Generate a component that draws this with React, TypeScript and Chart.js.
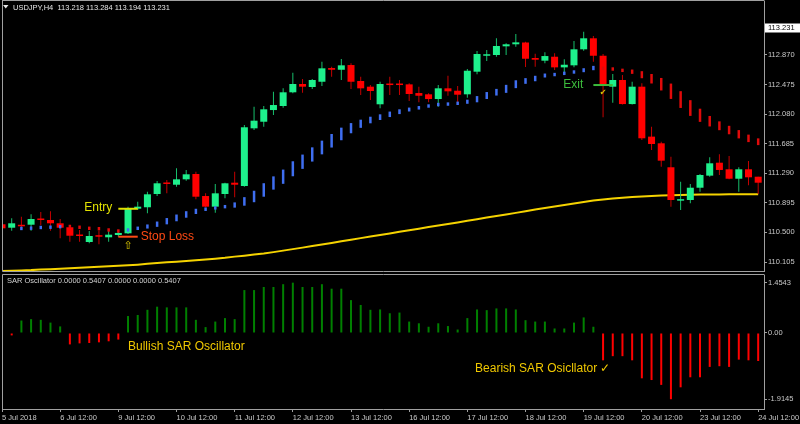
import React, { useEffect, useRef } from 'react';
import { Chart, registerables } from 'chart.js';

Chart.register(...registerables);

// ---------- chart data (USDJPY, H4) ----------
const symbolLine = 'USDJPY,H4  113.218 113.284 113.194 113.231';
const oscillatorLine = 'SAR Oscillator 0.0000 0.5407 0.0000 0.0000 0.5407';
const bidPrice = 113.231;

const dateLabels = [
  '5 Jul 2018', '6 Jul 12:00', '9 Jul 12:00', '10 Jul 12:00', '11 Jul 12:00',
  '12 Jul 12:00', '13 Jul 12:00', '16 Jul 12:00', '17 Jul 12:00', '18 Jul 12:00',
  '19 Jul 12:00', '20 Jul 12:00', '23 Jul 12:00', '24 Jul 12:00',
];
const barsPerDateLabel = 6;

const priceTicks = [110.105, 110.5, 110.895, 111.29, 111.685, 112.08, 112.475, 112.87];
const oscillatorTicks = [1.4543, 0, -1.9145];

const opens = [
  110.609, 110.563, 110.595, 110.603, 110.683, 110.666, 110.622, 110.569, 110.466, 110.372,
  110.456, 110.435, 110.466, 110.488, 110.817, 110.836, 111.013, 111.164, 111.137, 111.209,
  111.280, 110.986, 110.844, 111.013, 111.164, 111.120, 111.890, 111.978, 112.134, 112.188,
  112.371, 112.482, 112.442, 112.512, 112.695, 112.672, 112.735, 112.522, 112.446, 112.211,
  112.482, 112.486, 112.477, 112.361, 112.344, 112.281, 112.424, 112.392, 112.344, 112.646,
  112.859, 112.869, 112.985, 113.012, 113.036, 112.829, 112.793, 112.846, 112.704, 112.731,
  112.945, 113.092, 112.859, 112.446, 112.535, 112.214, 112.446, 111.779, 111.690, 111.370,
  110.924, 110.933, 111.097, 111.258, 111.431, 111.343, 111.217, 111.343, 111.244,
];
const highs = [
  110.702, 110.689, 110.710, 110.742, 110.773, 110.782, 110.679, 110.577, 110.533, 110.519,
  110.523, 110.542, 110.533, 110.844, 110.910, 111.044, 111.187, 111.200, 111.356, 111.334,
  111.311, 111.022, 111.147, 111.164, 111.311, 111.934, 112.179, 112.188, 112.379, 112.424,
  112.632, 112.548, 112.548, 112.779, 112.713, 112.815, 112.758, 112.579, 112.468, 112.512,
  112.579, 112.535, 112.491, 112.446, 112.357, 112.468, 112.593, 112.455, 112.682, 112.922,
  112.936, 113.092, 113.025, 113.149, 113.046, 112.886, 112.905, 112.891, 112.811, 113.056,
  113.180, 113.122, 112.882, 112.615, 112.602, 112.512, 112.491, 111.912, 111.712, 111.511,
  111.177, 111.147, 111.280, 111.503, 111.543, 111.520, 111.370, 111.453, 111.244,
];
const lows = [
  110.542, 110.523, 110.533, 110.523, 110.595, 110.523, 110.422, 110.376, 110.376, 110.356,
  110.342, 110.376, 110.443, 110.479, 110.799, 110.755, 110.986, 111.022, 111.111, 111.191,
  110.942, 110.836, 110.763, 110.956, 110.969, 111.111, 111.867, 111.912, 112.068, 112.165,
  112.357, 112.365, 112.415, 112.455, 112.579, 112.535, 112.415, 112.335, 112.268, 112.157,
  112.335, 112.335, 112.255, 112.237, 112.237, 112.179, 112.325, 112.211, 112.299, 112.611,
  112.789, 112.847, 112.869, 112.980, 112.709, 112.713, 112.758, 112.668, 112.624, 112.704,
  112.926, 112.779, 112.037, 112.232, 112.208, 112.208, 111.734, 111.600, 111.378, 110.844,
  110.799, 110.889, 111.044, 111.244, 111.267, 111.209, 111.044, 111.129, 111.013,
];
const closes = [
  110.555, 110.622, 110.582, 110.679, 110.666, 110.622, 110.563, 110.456, 110.452, 110.452,
  110.443, 110.470, 110.493, 110.816, 110.844, 111.009, 111.156, 111.147, 111.209, 111.276,
  110.977, 110.844, 111.022, 111.156, 111.137, 111.904, 111.992, 112.144, 112.201, 112.371,
  112.482, 112.446, 112.535, 112.691, 112.672, 112.731, 112.512, 112.424, 112.388, 112.482,
  112.468, 112.468, 112.348, 112.325, 112.281, 112.424, 112.384, 112.339, 112.659, 112.882,
  112.878, 112.989, 113.012, 113.038, 112.819, 112.806, 112.855, 112.704, 112.739, 112.945,
  113.092, 112.859, 112.468, 112.535, 112.214, 112.446, 111.757, 111.681, 111.458, 110.933,
  110.937, 111.097, 111.267, 111.423, 111.334, 111.217, 111.343, 111.236, 111.164,
];

// slow moving average (yellow)
const movingAverage = [
  109.985, 109.989, 109.993, 109.997, 110.004, 110.010, 110.016, 110.022, 110.029, 110.036,
  110.041, 110.048, 110.054, 110.061, 110.070, 110.081, 110.092, 110.101, 110.110, 110.120,
  110.129, 110.138, 110.149, 110.161, 110.177, 110.190, 110.204, 110.218, 110.237, 110.257,
  110.277, 110.297, 110.319, 110.340, 110.360, 110.381, 110.403, 110.424, 110.446, 110.467,
  110.487, 110.508, 110.530, 110.550, 110.571, 110.592, 110.612, 110.634, 110.655, 110.677,
  110.698, 110.718, 110.739, 110.761, 110.783, 110.807, 110.827, 110.846, 110.866, 110.885,
  110.906, 110.925, 110.941, 110.953, 110.963, 110.973, 110.980, 110.986, 110.992, 110.996,
  111.000, 111.002, 111.005, 111.006, 111.008, 111.009, 111.009, 111.010, 111.010,
];

// Parabolic SAR below price (bullish)
const sarBullish = [
  null, null, 110.553, 110.557, 110.566, 110.570, 110.577, null, null, null,
  null, null, null, 110.533, 110.555, 110.579, 110.610, 110.650, 110.694, 110.740,
  110.781, 110.810, 110.828, 110.844, 110.866, 110.914, 110.980, 111.067, 111.160, 111.244,
  111.350, 111.444, 111.541, 111.634, 111.724, 111.815, 111.892, 111.951, 112.001, 112.039,
  112.077, 112.112, 112.141, 112.164, 112.188, 112.208, 112.214, 112.224, 112.245, 112.279,
  112.328, 112.372, 112.417, 112.479, 112.522, 112.555, 112.595, 112.608, 112.624, 112.642,
  112.666, 112.695, null, null, null, null, null, null, null, null,
  null, null, null, null, null, null, null, null, null,
];
// Parabolic SAR above price (bearish)
const sarBearish = [
  null, null, null, null, null, null, null, 110.580, 110.569, 110.555,
  110.550, 110.533, 110.519, null, null, null, null, null, null, null,
  null, null, null, null, null, null, null, null, null, null,
  null, null, null, null, null, null, null, null, null, null,
  null, null, null, null, null, null, null, null, null, null,
  null, null, null, null, null, null, null, null, null, null,
  null, null, 112.691, 112.682, 112.664, 112.646, 112.606, 112.552, 112.479, 112.385,
  112.274, 112.161, 112.064, 111.985, 111.924, 111.867, 111.811, 111.756, 111.711,
];

// SAR oscillator histogram
const oscillatorValues = [
  -0.14, -0.07, 0.36, 0.40, 0.38, 0.30, 0.19, -0.33, -0.30, -0.29,
  -0.27, -0.24, -0.19, 0.49, 0.52, 0.67, 0.76, 0.74, 0.74, 0.74,
  0.38, 0.17, 0.33, 0.43, 0.40, 1.24, 1.24, 1.33, 1.33, 1.41,
  1.4543, 1.33, 1.33, 1.41, 1.28, 1.28, 0.95, 0.81, 0.67, 0.68,
  0.57, 0.59, 0.33, 0.28, 0.18, 0.28, 0.20, 0.10, 0.43, 0.68,
  0.66, 0.71, 0.71, 0.68, 0.37, 0.33, 0.33, 0.13, 0.13, 0.30,
  0.45, 0.18, -0.79, -0.67, -0.67, -0.79, -1.31, -1.36, -1.50, -1.9145,
  -1.57, -1.28, -1.28, -0.98, -0.96, -0.98, -0.77, -0.79, -0.81,
];

// trade markers
const entryBar = 13;
const entryPrice = closes[entryBar];
const stopPrice = 110.443;
const exitBar = 62;
const exitPrice = closes[exitBar];

// ---------- styling ----------
const FONT = "'Liberation Sans', Arial, sans-serif";
const AXIS_TEXT = '#c8c8c8';
const FRAME = '#a0a0a0';
const BULL_BODY = '#1ef08c';
const BULL_WICK = '#17bf6c';
const BEAR_BODY = '#ff0000';
const BEAR_WICK = '#c40000';
const SAR_BLUE = '#3f6ef0';
const SAR_RED = '#e00a0a';
const MA_COLOR = '#f5d300';
const ENTRY_COLOR = '#e2e200';
const STOP_COLOR = '#ff4a14';
const EXIT_COLOR = '#3cbc3c';
const NOTE_COLOR = '#f0c800';
const X_MAX = 78.6;
const AXIS_WIDTH = 36;

const bars = (arr: any[]) => arr.map((v, i) => ({ x: i, y: v }));

// dash length of each SAR mark follows the SAR step around it
const sarRadius = (series: (number | null)[]) => (ctx: any) => {
  const ys = ctx.chart.scales.y;
  const i = ctx.dataIndex;
  const v = series[i];
  if (v == null || !ys) return 0;
  const px = (p: number) => ys.getPixelForValue(p);
  const prev = series[i - 1];
  const next = series[i + 1];
  let r = 1.7;
  if (prev != null && next != null) r = Math.abs(px(prev) - px(next)) / 2;
  else if (prev != null) r = Math.abs(px(v) - px(prev));
  else if (next != null) r = Math.abs(px(v) - px(next));
  return Math.max(1.7, Math.min(r, 9));
};

const mainOverlay = {
  id: 'mainOverlay',
  afterDraw(chart: any) {
    const { ctx, chartArea: a, scales } = chart;
    const xs = scales.x;
    const ys = scales.y;
    ctx.save();

    // panel frame
    ctx.strokeStyle = FRAME;
    ctx.lineWidth = 1;
    ctx.beginPath();
    ctx.moveTo(a.left + 0.5, 0);
    ctx.lineTo(a.left + 0.5, a.bottom + 0.5);
    ctx.lineTo(a.right + 0.5, a.bottom + 0.5);
    ctx.moveTo(a.left, 0.5);
    ctx.lineTo(a.right + 0.5, 0.5);
    ctx.stroke();

    // symbol header
    ctx.fillStyle = '#e6e6e6';
    ctx.beginPath();
    ctx.moveTo(3, 5);
    ctx.lineTo(8.5, 5);
    ctx.lineTo(5.75, 8.5);
    ctx.closePath();
    ctx.fill();
    ctx.font = `7.5px ${FONT}`;
    ctx.textBaseline = 'middle';
    ctx.textAlign = 'left';
    ctx.fillText(symbolLine, 13, 7.5);

    // trade annotations
    ctx.font = `12px ${FONT}`;
    ctx.fillStyle = ENTRY_COLOR;
    ctx.textAlign = 'right';
    ctx.fillText('Entry', xs.getPixelForValue(entryBar - 1) - 6, ys.getPixelForValue(entryPrice) - 1);
    ctx.fillStyle = STOP_COLOR;
    ctx.textAlign = 'left';
    ctx.fillText('Stop Loss', xs.getPixelForValue(entryBar + 1) + 3, ys.getPixelForValue(stopPrice));
    ctx.fillStyle = EXIT_COLOR;
    ctx.textAlign = 'right';
    ctx.fillText('Exit', xs.getPixelForValue(exitBar - 1) - 10, ys.getPixelForValue(exitPrice));

    // buy / exit arrows
    ctx.textAlign = 'center';
    ctx.fillStyle = '#d8c400';
    ctx.font = `11px 'DejaVu Sans', sans-serif`;
    ctx.fillText('\u21E7', xs.getPixelForValue(entryBar), ys.getPixelForValue(lows[entryBar]) + 12);
    ctx.font = `8px 'DejaVu Sans', sans-serif`;
    ctx.fillText('\u2714', xs.getPixelForValue(exitBar), ys.getPixelForValue(exitPrice) + 8);

    // current bid label
    const py = Math.round(ys.getPixelForValue(bidPrice));
    ctx.fillStyle = '#ffffff';
    ctx.fillRect(a.right + 1, py - 4.5, 35, 9);
    ctx.fillStyle = '#000000';
    ctx.font = `7.5px ${FONT}`;
    ctx.textAlign = 'left';
    ctx.fillText(bidPrice.toFixed(3), a.right + 4, py);
    ctx.restore();
  },
};

const oscOverlay = {
  id: 'oscOverlay',
  afterDraw(chart: any) {
    const { ctx, chartArea: a, scales } = chart;
    const xs = scales.x;
    const ys = scales.y;
    ctx.save();
    ctx.strokeStyle = FRAME;
    ctx.lineWidth = 1;
    ctx.beginPath();
    ctx.moveTo(a.left + 0.5, a.bottom);
    ctx.lineTo(a.left + 0.5, a.top - 0.5);
    ctx.lineTo(a.right + 0.5, a.top - 0.5);
    ctx.stroke();

    ctx.fillStyle = '#d2d2d2';
    ctx.font = `7.5px ${FONT}`;
    ctx.textAlign = 'left';
    ctx.textBaseline = 'middle';
    ctx.fillText(oscillatorLine, 7, a.top + 6);

    ctx.fillStyle = NOTE_COLOR;
    ctx.font = `12px ${FONT}`;
    ctx.fillText('Bullish SAR Oscillator', xs.getPixelForValue(13), ys.getPixelForValue(-0.39));
    ctx.fillText('Bearish SAR Osicllator \u2713', xs.getPixelForValue(48.8), ys.getPixelForValue(-1.04));
    ctx.restore();
  },
};

const tickFont = { family: FONT, size: 7.5 };

function mainConfig(): any {
  return {
    type: 'bar',
    data: {
      datasets: [
        {
          type: 'line', label: 'Entry', order: 0,
          data: [{ x: entryBar - 1, y: entryPrice }, { x: entryBar + 1, y: entryPrice }],
          borderColor: ENTRY_COLOR, borderWidth: 2, pointRadius: 0,
        },
        {
          type: 'line', label: 'Stop Loss', order: 0,
          data: [{ x: entryBar - 1, y: stopPrice }, { x: entryBar + 1, y: stopPrice }],
          borderColor: STOP_COLOR, borderWidth: 2, pointRadius: 0,
        },
        {
          type: 'line', label: 'Exit', order: 0,
          data: [{ x: exitBar - 1, y: exitPrice }, { x: exitBar + 1, y: exitPrice }],
          borderColor: EXIT_COLOR, borderWidth: 2, pointRadius: 0,
        },
        {
          type: 'line', label: 'SAR up', order: 0, showLine: false,
          data: bars(sarBullish),
          pointStyle: 'line', pointRotation: 90, pointRadius: sarRadius(sarBullish),
          pointBorderColor: SAR_BLUE, pointBorderWidth: 2.5,
        },
        {
          type: 'line', label: 'SAR down', order: 0, showLine: false,
          data: bars(sarBearish),
          pointStyle: 'line', pointRotation: 90, pointRadius: sarRadius(sarBearish),
          pointBorderColor: SAR_RED, pointBorderWidth: 2.5,
        },
        {
          label: 'Body', order: 1, grouped: false, barThickness: 7, minBarLength: 1.5, inflateAmount: 0,
          data: opens.map((o, i) => ({ x: i, y: [o, closes[i]] })),
          backgroundColor: opens.map((o, i) => (closes[i] >= o ? BULL_BODY : BEAR_BODY)),
        },
        {
          label: 'Wick', order: 2, grouped: false, barThickness: 1, inflateAmount: 0,
          data: lows.map((l, i) => ({ x: i, y: [l, highs[i]] })),
          backgroundColor: opens.map((o, i) => (closes[i] >= o ? BULL_WICK : BEAR_WICK)),
        },
        {
          type: 'line', label: 'MA', order: 3,
          data: bars(movingAverage),
          borderColor: MA_COLOR, borderWidth: 2, pointRadius: 0, tension: 0,
        },
      ],
    },
    options: {
      responsive: false,
      animation: false,
      devicePixelRatio: 1,
      events: [],
      layout: { padding: { left: 2, top: 1, right: 0, bottom: 1 } },
      plugins: { legend: { display: false }, tooltip: { enabled: false } },
      scales: {
        x: { type: 'linear', min: 0, max: X_MAX, offset: false, display: false, grid: { offset: false } },
        y: {
          position: 'right', min: 109.985, max: 113.59,
          afterBuildTicks: (s: any) => { s.ticks = priceTicks.map((v) => ({ value: v })); },
          afterFit: (s: any) => { s.width = AXIS_WIDTH; s.paddingTop = 0; s.paddingBottom = 0; },
          ticks: { color: AXIS_TEXT, font: tickFont, padding: 1, callback: (v: any) => Number(v).toFixed(3) },
          grid: { drawOnChartArea: false, tickLength: 3, color: FRAME },
          border: { display: true, color: FRAME },
        },
      },
    },
    plugins: [mainOverlay],
  };
}

function oscConfig(): any {
  return {
    type: 'bar',
    data: {
      datasets: [
        {
          label: 'SAR Oscillator', barThickness: 2, inflateAmount: 0,
          data: bars(oscillatorValues),
          backgroundColor: oscillatorValues.map((v) => (v >= 0 ? '#008000' : '#ff0000')),
        },
      ],
    },
    options: {
      responsive: false,
      animation: false,
      devicePixelRatio: 1,
      events: [],
      layout: { padding: { left: 2, top: 3, right: 0, bottom: 0 } },
      plugins: { legend: { display: false }, tooltip: { enabled: false } },
      scales: {
        x: {
          type: 'linear', min: 0, max: X_MAX, offset: false,
          afterBuildTicks: (s: any) => { s.ticks = dateLabels.map((_, k) => ({ value: k * barsPerDateLabel })); },
          afterFit: (s: any) => { s.height = 15; s.paddingLeft = 0; s.paddingRight = 0; },
          ticks: {
            align: 'start', autoSkip: false, maxRotation: 0, padding: 1, color: AXIS_TEXT, font: tickFont,
            callback: (v: any) => dateLabels[Math.round(Number(v) / barsPerDateLabel)],
          },
          grid: { drawOnChartArea: false, tickLength: 3, color: FRAME, offset: false },
          border: { display: true, color: FRAME },
        },
        y: {
          position: 'right', min: -2.197, max: 1.676,
          afterBuildTicks: (s: any) => { s.ticks = oscillatorTicks.map((v) => ({ value: v })); },
          afterFit: (s: any) => { s.width = AXIS_WIDTH; s.paddingTop = 0; s.paddingBottom = 0; },
          ticks: { color: AXIS_TEXT, font: tickFont, padding: 1, callback: (v: any) => (Number(v) === 0 ? '0.00' : String(v)) },
          grid: { drawOnChartArea: false, tickLength: 3, color: FRAME },
          border: { display: true, color: FRAME },
        },
      },
    },
    plugins: [oscOverlay],
  };
}

export default function App() {
  const mainRef = useRef<HTMLCanvasElement>(null);
  const oscRef = useRef<HTMLCanvasElement>(null);

  useEffect(() => {
    const prevMargin = document.body.style.margin;
    const prevBg = document.body.style.background;
    document.body.style.margin = '0';
    document.body.style.background = '#000';
    const main = new Chart(mainRef.current as HTMLCanvasElement, mainConfig());
    const osc = new Chart(oscRef.current as HTMLCanvasElement, oscConfig());
    return () => {
      main.destroy();
      osc.destroy();
      document.body.style.margin = prevMargin;
      document.body.style.background = prevBg;
    };
  }, []);

  return (
    <div style={{ position: 'relative', width: 800, height: 424, background: '#000', overflow: 'hidden' }}>
      <canvas ref={mainRef} width={800} height={272}
        style={{ position: 'absolute', left: 0, top: 0, width: 800, height: 272 }} />
      <canvas ref={oscRef} width={800} height={152}
        style={{ position: 'absolute', left: 0, top: 272, width: 800, height: 152 }} />
    </div>
  );
}
